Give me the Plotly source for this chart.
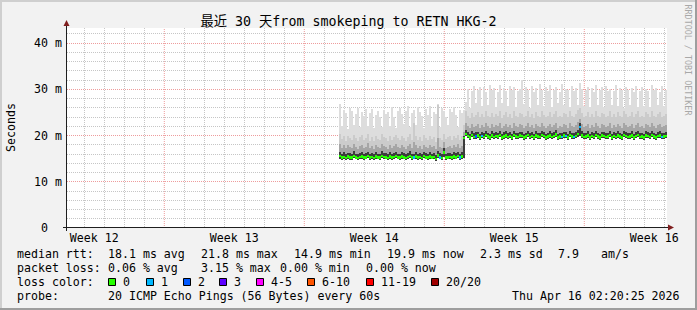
import plotly.graph_objects as go

# ---------------- data ----------------
window_days = 30            # graph covers the last 30 days
data_start_day = 13.6       # first RRD bin with data (days into the window)
bin_days = 0.1              # 2.4 h consolidation step

week_labels = ["Week 12", "Week 13", "Week 14", "Week 15", "Week 16"]
week_label_days = [1.365, 8.365, 15.365, 22.365, 29.365]
week_start_days = [4.865, 11.865, 18.865, 25.865]
y_tick_vals = [0, 10, 20, 30, 40]
y_tick_text = ["0\u00a0\u00a0", "10 m", "20 m", "30 m", "40 m"]

# median rtt per bin (ms)
median_ms = [
    15.6, 15.2, 15.4, 15.1, 15.5, 15.3, 15.2, 15.6, 15.3, 15.1,
    15.4, 15.5, 15.2, 15.3, 15.6, 15.2, 15.4, 15.1, 15.5, 15.3,
    15.2, 15.6, 15.4, 15.3, 15.1, 15.5, 15.2, 15.4, 15.6, 15.3,
    15.2, 15.5, 15.3, 15.1, 15.4, 15.6, 15.2, 15.3, 15.5, 15.2,
    15.4, 15.1, 15.6, 15.3, 15.2, 15.5, 15.3, 15.4, 14.9, 15.7,
    15.3, 15.1, 16.3, 15.2, 15.3, 15.4, 15.2, 15.5, 15.3, 15.6,
    15.2, 15.5,
    19.5,
    20.3, 19.9, 19.6, 20.1, 19.7, 19.8, 20.0, 19.6, 19.9, 19.7,
    20.1, 19.8, 19.6, 20.0, 19.7, 19.9, 19.8, 20.1, 19.6, 19.8,
    20.0, 19.7, 19.9, 19.6, 20.1, 19.8, 19.7, 20.0, 19.9, 19.6,
    19.8, 20.1, 19.7, 19.9, 19.6, 20.0, 19.8, 19.7, 20.1, 19.9,
    19.6, 19.8, 20.0, 19.7, 19.9, 20.2, 19.6, 19.8, 19.7, 20.0,
    19.9, 19.6, 20.1, 19.8, 19.7, 19.9, 20.3, 21.8, 20.0, 19.7,
    19.8, 20.0, 19.6, 19.9, 19.7, 20.1, 19.8, 19.6, 20.0, 19.9,
    19.7, 19.8, 20.1, 19.6, 19.9, 19.7, 20.0, 19.8, 19.6, 20.1,
    19.9, 19.7, 19.8, 20.0, 19.6, 19.9, 20.1, 19.7, 19.8, 19.6,
    20.0, 19.9, 19.7, 20.1, 19.8, 19.6, 19.9, 20.0, 19.7, 19.8,
    19.9,
]

# smoke: lowest ping per bin (ms)
smoke_min_ms = [
    15.0, 14.8, 14.9, 14.7, 15.0, 14.8, 14.8, 15.1, 14.9, 14.7,
    14.9, 15.0, 14.8, 14.9, 15.1, 14.8, 14.9, 14.7, 15.0, 14.9,
    14.8, 15.1, 14.9, 14.9, 14.7, 15.0, 14.8, 14.9, 15.1, 14.9,
    14.8, 15.0, 14.9, 14.7, 14.9, 15.1, 14.8, 14.9, 15.0, 14.8,
    14.9, 14.7, 15.1, 14.9, 14.8, 15.0, 14.9, 14.9, 14.5, 15.2,
    14.9, 14.7, 15.4, 14.8, 14.9, 14.9, 14.8, 15.0, 14.9, 15.1,
    14.8, 15.0,
    15.2,
    19.8, 19.4, 19.1, 19.6, 19.2, 19.3, 19.5, 19.1, 19.4, 19.2,
    19.6, 19.3, 19.1, 19.5, 19.2, 19.4, 19.3, 19.6, 19.1, 19.3,
    19.5, 19.2, 19.4, 19.1, 19.6, 19.3, 19.2, 19.5, 19.4, 19.1,
    19.3, 19.6, 19.2, 19.4, 19.1, 19.5, 19.3, 19.2, 19.6, 19.4,
    19.1, 19.3, 19.5, 19.2, 19.4, 19.7, 19.1, 19.3, 19.2, 19.5,
    19.4, 19.1, 19.6, 19.3, 19.2, 19.4, 19.7, 19.9, 19.5, 19.2,
    19.3, 19.5, 19.1, 19.4, 19.2, 19.6, 19.3, 19.1, 19.5, 19.4,
    19.2, 19.3, 19.6, 19.1, 19.4, 19.2, 19.5, 19.3, 19.1, 19.6,
    19.4, 19.2, 19.3, 19.5, 19.1, 19.4, 19.6, 19.2, 19.3, 19.1,
    19.5, 19.4, 19.2, 19.6, 19.3, 19.1, 19.4, 19.5, 19.2, 19.3,
    19.4,
]

# smoke: inner (darkest) band top (ms)
smoke_inner_ms = [
    16.4, 16.0, 16.5, 15.9, 16.3, 16.2, 16.0, 16.6, 16.1, 15.9,
    16.3, 16.4, 16.0, 16.2, 16.5, 16.0, 16.3, 15.9, 16.4, 16.1,
    16.0, 16.6, 16.2, 16.2, 15.9, 16.4, 16.0, 16.3, 16.5, 16.1,
    16.0, 16.4, 16.2, 15.9, 16.3, 16.6, 16.0, 16.1, 16.4, 16.0,
    16.3, 15.9, 16.5, 16.2, 16.0, 16.4, 16.1, 16.3, 15.8, 16.6,
    16.2, 15.9, 17.3, 16.1, 16.2, 16.3, 16.0, 16.4, 16.2, 16.5,
    16.0, 16.4,
    19.8,
    21.2, 20.7, 20.4, 20.9, 20.5, 20.7, 20.8, 20.3, 20.8, 20.5,
    21.0, 20.6, 20.4, 20.9, 20.5, 20.8, 20.6, 21.0, 20.3, 20.7,
    20.9, 20.5, 20.8, 20.3, 21.0, 20.6, 20.5, 20.8, 20.8, 20.4,
    20.6, 21.0, 20.5, 20.7, 20.3, 20.9, 20.6, 20.5, 21.0, 20.7,
    20.4, 20.6, 20.9, 20.5, 20.7, 21.1, 20.4, 20.6, 20.5, 20.8,
    20.7, 20.4, 20.9, 20.6, 20.5, 20.8, 21.3, 22.6, 20.9, 20.5,
    20.6, 20.9, 20.4, 20.8, 20.5, 21.0, 20.6, 20.4, 20.8, 20.7,
    20.5, 20.6, 21.0, 20.4, 20.8, 20.5, 20.9, 20.6, 20.4, 21.0,
    20.8, 20.5, 20.6, 20.9, 20.4, 20.7, 21.0, 20.5, 20.6, 20.4,
    20.9, 20.8, 20.5, 21.0, 20.6, 20.4, 20.8, 20.9, 20.5, 20.6,
    20.8,
]

# smoke: middle band top (ms)
smoke_mid_ms = [
    18.2, 17.4, 17.9, 17.2, 18.0, 17.6, 17.3, 18.1, 17.5, 17.1,
    17.8, 18.0, 17.3, 17.6, 18.3, 17.2, 17.7, 17.1, 17.9, 17.5,
    17.3, 18.2, 17.7, 17.6, 17.1, 17.9, 17.3, 17.8, 18.1, 17.5,
    17.3, 17.9, 17.6, 17.1, 17.7, 18.2, 17.3, 18.6, 17.9, 17.3,
    17.7, 17.1, 18.0, 17.6, 17.3, 17.9, 17.5, 17.8, 17.0, 19.4,
    17.6, 17.2, 18.6, 17.4, 17.6, 17.8, 17.3, 17.9, 17.6, 18.1,
    17.3, 17.8,
    20.8,
    22.8, 22.0, 21.6, 22.4, 21.8, 22.1, 22.5, 21.7, 22.3, 21.9,
    22.6, 22.0, 21.7, 22.4, 21.9, 22.2, 22.0, 22.7, 21.6, 22.1,
    22.5, 21.8, 22.3, 21.6, 22.6, 22.0, 21.9, 22.4, 22.2, 21.7,
    22.0, 22.7, 21.9, 22.2, 21.6, 22.5, 22.0, 21.8, 22.6, 22.1,
    21.7, 22.0, 22.5, 21.8, 22.2, 22.8, 21.7, 22.0, 21.9, 22.4,
    22.2, 21.7, 22.6, 22.0, 21.8, 22.3, 22.9, 23.6, 22.4, 21.9,
    22.0, 22.5, 21.7, 22.3, 21.9, 22.6, 22.0, 21.7, 22.4, 22.2,
    21.9, 22.0, 22.6, 21.7, 22.3, 21.9, 22.5, 22.0, 21.7, 22.7,
    22.3, 21.9, 22.0, 22.5, 21.7, 22.2, 22.6, 21.9, 22.0, 21.7,
    22.5, 22.3, 21.9, 22.6, 22.0, 21.7, 22.3, 22.5, 21.9, 22.0,
    22.3,
]

# smoke: outer band top (ms)
smoke_outer_ms = [
    20.3, 19.2, 19.8, 18.9, 20.0, 19.5, 19.0, 20.2, 19.4, 18.8,
    19.7, 20.1, 19.0, 19.5, 20.4, 18.9, 19.6, 18.8, 19.9, 19.3,
    19.0, 20.3, 19.6, 19.5, 18.8, 19.9, 19.1, 19.7, 20.2, 19.4,
    19.1, 19.9, 19.5, 18.8, 19.6, 20.3, 19.0, 22.6, 19.8, 19.1,
    19.6, 18.9, 20.1, 19.5, 19.1, 19.9, 19.3, 19.7, 18.7, 26.6,
    19.5, 19.0, 20.4, 19.3, 19.6, 19.8, 19.1, 19.9, 19.5, 20.2,
    19.1, 19.8,
    22.2,
    25.4, 24.2, 23.8, 24.9, 24.0, 24.5, 25.1, 23.9, 24.7, 24.1,
    25.2, 24.3, 23.9, 24.8, 24.1, 24.6, 24.3, 25.3, 23.8, 24.5,
    25.0, 24.0, 24.7, 23.8, 25.2, 24.3, 24.1, 24.9, 24.6, 23.9,
    24.3, 25.3, 24.1, 24.6, 23.8, 25.0, 24.3, 24.0, 25.2, 24.5,
    23.9, 24.3, 25.0, 24.0, 24.6, 25.4, 23.9, 24.3, 24.1, 24.9,
    24.6, 23.9, 25.2, 24.3, 24.0, 24.7, 25.5, 25.9, 24.9, 24.1,
    24.3, 25.0, 23.9, 24.7, 24.1, 25.2, 24.3, 23.9, 24.9, 24.6,
    24.1, 24.3, 25.2, 23.9, 24.7, 24.1, 25.0, 24.3, 23.9, 25.3,
    24.7, 24.1, 24.3, 25.0, 23.9, 24.6, 25.2, 24.1, 24.3, 23.9,
    25.0, 24.7, 24.1, 25.2, 24.3, 23.9, 24.7, 25.0, 24.1, 24.3,
    24.7,
]

# smoke: highest ping per bin (ms)
smoke_max_ms = [
    26.9, 22.0, 25.6, 24.8, 21.5, 25.9, 25.2, 22.3, 24.6, 26.0,
    21.8, 25.1, 24.3, 25.7, 22.0, 24.9, 25.8, 21.6, 24.4, 25.3,
    23.9, 21.9, 25.6, 24.7, 25.0, 22.1, 26.2, 24.1, 21.7, 25.4,
    25.9, 24.6, 22.4, 25.2, 26.4, 21.9, 24.8, 25.5, 22.2, 26.1,
    25.0, 24.2, 21.6, 25.8, 24.5, 26.3, 22.0, 25.1, 24.7, 26.8,
    21.8, 26.0, 25.3, 24.0, 22.3, 25.7, 25.0, 26.2, 24.4, 21.9,
    25.5, 24.9,
    25.6,
    27.2, 30.1, 26.0, 29.6, 30.8, 27.0, 29.9, 30.4, 26.3, 30.6,
    29.4, 26.5, 30.9, 29.8, 30.2, 26.1, 29.5, 31.0, 27.1, 30.3,
    29.7, 26.4, 30.8, 29.9, 30.5, 26.2, 29.6, 30.1, 31.9, 26.8,
    30.4, 29.8, 26.0, 30.7, 29.5, 30.2, 26.6, 31.1, 29.9, 26.3,
    30.5, 29.7, 30.9, 26.1, 29.8, 30.6, 27.0, 29.4, 31.2, 26.5,
    30.1, 29.9, 26.2, 30.7, 29.6, 30.3, 26.7, 31.4, 30.0, 26.4,
    29.8, 30.6, 26.1, 30.2, 29.5, 30.9, 26.6, 29.9, 30.4, 26.2,
    30.8, 29.7, 30.1, 26.5, 29.6, 31.0, 26.3, 30.3, 29.8, 26.0,
    30.6, 29.9, 26.7, 30.2, 29.5, 30.8, 26.2, 29.7, 30.5, 26.4,
    30.0, 29.6, 26.1, 30.9, 29.8, 30.3, 26.6, 29.5, 30.7, 26.3,
    29.9,
]

# lost pings (of 20) per bin
loss_pings = [
    0, 0, 0, 0, 0, 0, 0, 0, 0, 0, 0, 0, 0, 0, 0, 0, 0, 0, 0, 0,
    0, 0, 0, 0, 0, 0, 0, 0, 0, 0, 0, 0, 0, 0, 0, 0, 0, 1, 0, 0,
    0, 0, 0, 0, 0, 0, 0, 0, 0, 0, 1, 0, 0, 0, 0, 0, 0, 0, 0, 0,
    1, 0, 0, 0, 0, 0, 0, 0, 2, 0, 0, 1, 0, 0, 0, 0, 0, 0, 0, 0,
    0, 0, 0, 0, 0, 0, 0, 0, 0, 0, 0, 0, 0, 0, 0, 0, 0, 0, 0, 0,
    0, 0, 0, 0, 0, 0, 0, 0, 0, 0, 0, 1, 0, 1, 0, 0, 0, 1, 0, 0,
    1, 0, 0, 0, 0, 0, 0, 0, 0, 0, 0, 0, 0, 0, 0, 0, 0, 0, 0, 0,
    0, 0, 0, 0, 0, 0, 0, 0, 0, 0, 0, 0, 0, 0, 0, 0, 0, 0, 0, 0,
    0, 1, 0, 0,
]

loss_levels = [0, 1, 2, 3, 5, 10, 19, 20]
loss_labels = ["0", "1", "2", "3", "4-5", "6-10", "11-19", "20/20"]
loss_colors = ["#26ff00", "#00b8ff", "#0059ff", "#5e00ff", "#ff00ff",
               "#ff5500", "#ff0000", "#a00000"]

title_text = "最近 30 天from smokeping to RETN HKG-2"
median_stats = ["18.1 ms avg", "21.8 ms max", "14.9 ms min", "19.9 ms now", "2.3 ms sd", "7.9", "am/s"]
loss_stats = ["0.06 % avg", "3.15 % max", "0.00 % min", "0.00 % now"]
probe_text = "20 ICMP Echo Pings (56 Bytes) every 60s"
stamp_text = "Thu Apr 16 02:20:25 2026"

n = len(median_ms)
for arr in (smoke_min_ms, smoke_inner_ms, smoke_mid_ms, smoke_outer_ms, smoke_max_ms, loss_pings):
    assert len(arr) == n, len(arr)

# ---------------- geometry / style ----------------
W, H = 697, 310
L, R, T, B = 67, 30, 28, 82
PW, PH = W - L - R, H - T - B
MONO = "DejaVu Sans Mono"
FS = 11.6
YMAX = 43.25


def px(x):
    return (x - L) / PW


def py(y):
    return (H - B - y) / PH


x_centers = [data_start_day + bin_days * (i + 0.5) for i in range(n)]

fig = go.Figure()

smoke_layers = [
    (smoke_max_ms, "#DDDDDD"),
    (smoke_outer_ms, "#CBCBCB"),
    (smoke_mid_ms, "#A6A6A6"),
    (smoke_inner_ms, "#3C3C3C"),
]
for top, col in smoke_layers:
    fig.add_bar(
        x=x_centers, base=smoke_min_ms,
        y=[t - b for t, b in zip(top, smoke_min_ms)],
        width=bin_days, marker=dict(color=col, line=dict(width=0)),
        hoverinfo="skip", showlegend=False,
    )


def loss_color(v):
    for lvl, c in zip(loss_levels, loss_colors):
        if v <= lvl:
            return c
    return loss_colors[-1]


MED_H = 0.55
fig.add_bar(
    x=x_centers, base=[m - MED_H / 2 for m in median_ms], y=[MED_H] * n,
    width=bin_days,
    marker=dict(color=[loss_color(v) for v in loss_pings], line=dict(width=0)),
    hoverinfo="skip", showlegend=False,
)

GRID = "#C6C6C6"
MGRID = "#EE9C9C"
day_grid = [0.865 + k for k in range(window_days) if k % 7 != 4]

fig.update_layout(
    width=W, height=H,
    margin=dict(l=L, r=R, t=T, b=B, autoexpand=False),
    paper_bgcolor="#F2F2F2", plot_bgcolor="#FFFFFF",
    barmode="overlay", bargap=0, showlegend=False,
    font=dict(family=MONO, size=FS, color="#000000"),
    title=dict(text=title_text, x=0.5, xref="container", xanchor="center",
               y=1 - 21 / H, yref="container", yanchor="middle",
               font=dict(family=MONO + ", Noto Sans CJK SC", size=13.3, color="#000000")),
    xaxis=dict(range=[0, window_days], tickmode="array", tickvals=week_label_days,
               ticktext=week_labels, showgrid=False, zeroline=False, showline=False,
               ticks="", ticklabelstandoff=1, tickfont=dict(family=MONO, size=FS),
               minor=dict(tickmode="array", tickvals=day_grid, showgrid=True,
                          gridcolor=GRID, griddash="1px,1px", gridwidth=1, ticks="")),
    yaxis=dict(range=[0, YMAX], tickmode="array", tickvals=y_tick_vals, ticktext=y_tick_text,
               showgrid=True, gridcolor=MGRID, griddash="1px,1px", gridwidth=1,
               zeroline=False, showline=False, ticks="", ticklabelstandoff=4,
               tickfont=dict(family=MONO, size=FS),
               minor=dict(tickmode="linear", tick0=0, dtick=2, showgrid=True,
                          gridcolor=GRID, griddash="1px,1px", gridwidth=1, ticks="")),
)

# weekly major grid lines
for d in week_start_days:
    fig.add_shape(type="line", xref="x", yref="paper", x0=d, x1=d, y0=0, y1=1,
                  line=dict(color=MGRID, width=1, dash="1px,1px"), layer="between")


def rect(x0, y0, x1, y1, fill, line=None):
    fig.add_shape(type="rect", xref="paper", yref="paper",
                  x0=px(x0), x1=px(x1), y0=py(y0), y1=py(y1),
                  fillcolor=fill, line=dict(width=1 if line else 0, color=line or fill),
                  layer="above")


# 3D frame shading
rect(0, 0, W, 2, "#CFCFCF")
rect(0, 0, 2, H, "#CFCFCF")
rect(0, H - 2, W, H, "#9E9E9E")
rect(W - 2, 0, W, H, "#9E9E9E")

AXIS = "#1F1F1F"
ARROW = "#801F1F"
fig.add_shape(type="line", xref="paper", yref="paper", x0=px(66.5), x1=px(66.5),
              y0=py(231), y1=py(25), line=dict(color=AXIS, width=1))
fig.add_shape(type="line", xref="paper", yref="paper", x0=px(63), x1=px(669),
              y0=py(227.5), y1=py(227.5), line=dict(color=AXIS, width=1))
fig.add_shape(type="path", xref="paper", yref="paper",
              path=f"M {px(63.5)},{py(26)} L {px(69.5)},{py(26)} L {px(66.5)},{py(20)} Z",
              fillcolor=ARROW, line=dict(width=0))
fig.add_shape(type="path", xref="paper", yref="paper",
              path=f"M {px(668)},{py(224.5)} L {px(668)},{py(230.5)} L {px(674)},{py(227.5)} Z",
              fillcolor=ARROW, line=dict(width=0))


def txt(x, y, s, anchor="left", size=FS, color="#000000", angle=0):
    fig.add_annotation(x=px(x), y=py(y), xref="paper", yref="paper", text=s,
                       showarrow=False, xanchor=anchor, yanchor="middle",
                       font=dict(family=MONO, size=size, color=color),
                       textangle=angle, borderpad=0)


txt(10.5, 127.5, "Seconds", anchor="center", angle=-90)
txt(687.5, 60, "RRDTOOL / TOBI OETIKER", anchor="center", size=8.4, color="#A8A8A8", angle=90)

# legend rows
med_x = [106.5, 199.5, 292.5, 386, 478.5, 556.5, 599.5]
txt(15.5, 254.3, "median rtt:")
for xx, s in zip(med_x, median_stats):
    txt(xx, 254.3, s)

loss_x = [106.5, 199.5, 278.5, 364.5]
txt(15.5, 268.3, "packet loss:")
for xx, s in zip(loss_x, loss_stats):
    txt(xx, 268.3, s)

box_left = [108, 146, 183, 219, 256, 307, 366, 431]
txt(15.5, 282, "loss color:")
for bx, lab, col in zip(box_left, loss_labels, loss_colors):
    rect(bx + 0.5, 278.5, bx + 7.5, 285.5, col, line="#000000")
    txt(bx + 14, 282, lab)

txt(15.5, 296, "probe:")
txt(106.5, 296, probe_text)
txt(681, 296, stamp_text, anchor="right")

fig.write_html("out.html")
